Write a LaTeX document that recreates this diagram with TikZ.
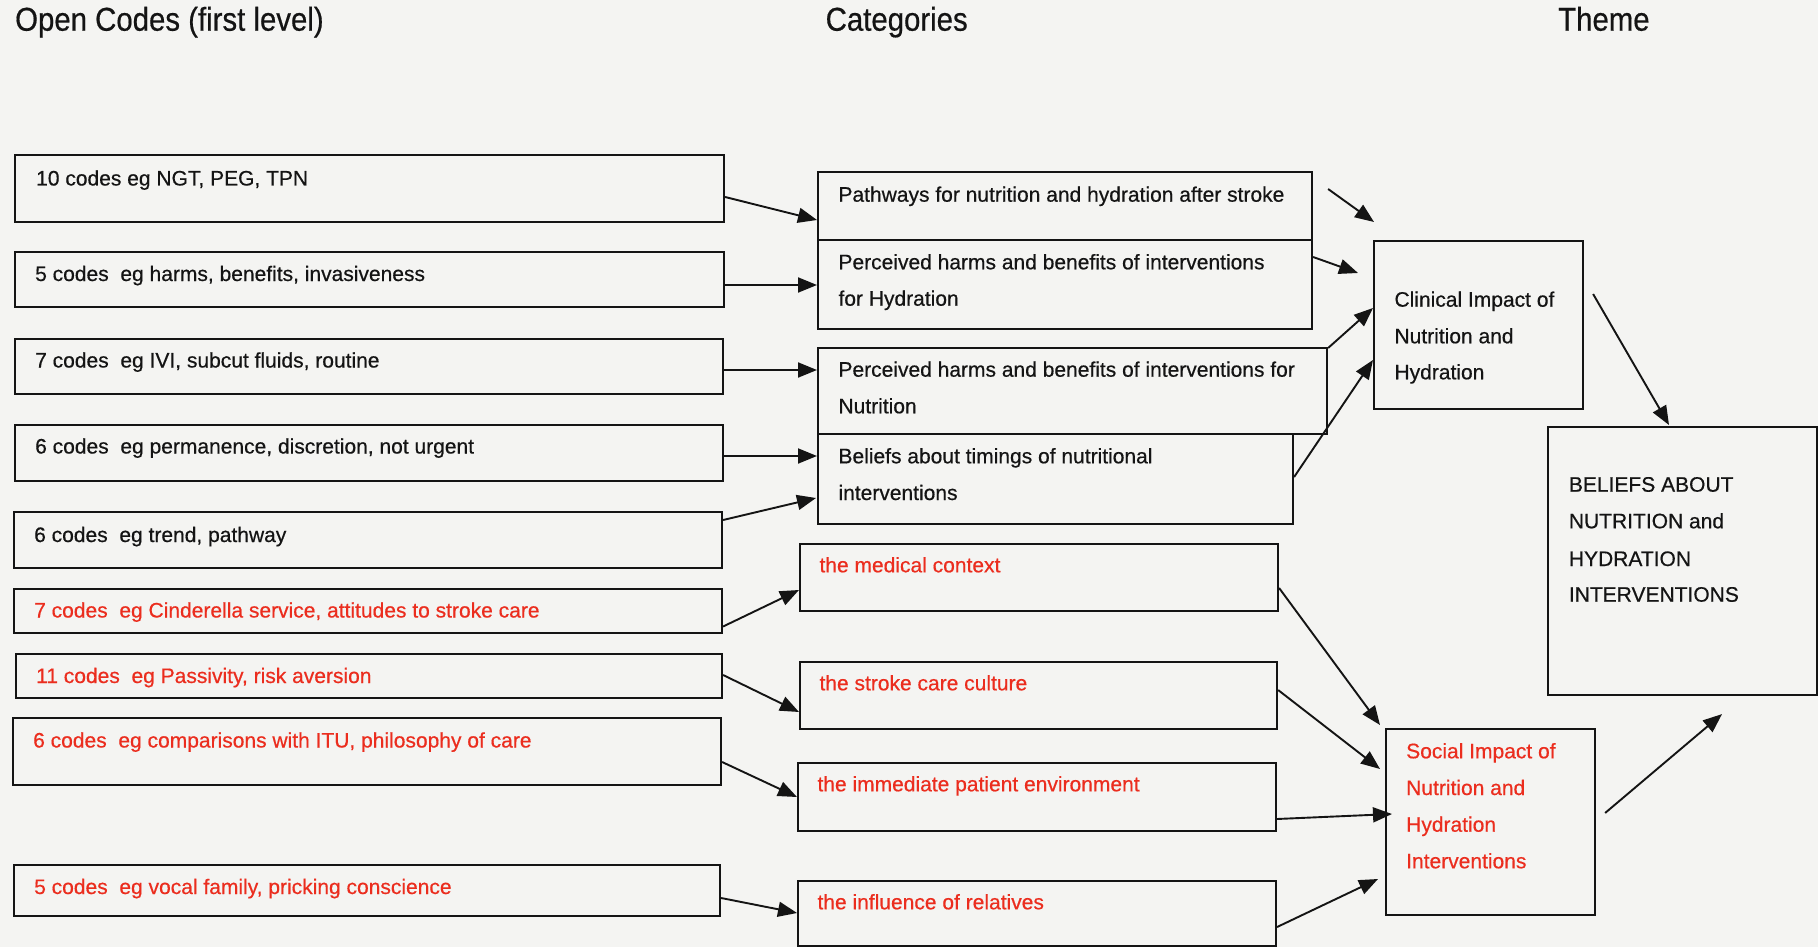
\documentclass[tikz,border=0pt]{standalone}
\usepackage{fontspec}
\setmainfont{Liberation Sans}[UprightFeatures={FakeBold=0.5}]
\newfontfamily\headfont{Liberation Sans}[UprightFeatures={FakeStretch=0.89, FakeBold=0.5}]
\usetikzlibrary{arrows.meta,calc}
\definecolor{paper}{RGB}{244,244,242}
\definecolor{ink}{RGB}{20,20,20}
\definecolor{redtxt}{RGB}{235,45,30}

\tikzset{
  box/.style={draw=ink, line width=2.1pt, inner sep=0pt, anchor=north west},
  txt/.style={inner sep=0pt, anchor=base west, text=ink, font=\fontsize{21}{36}\selectfont},
  rtxt/.style={txt, text=redtxt},
  head/.style={inner sep=0pt, anchor=base west, text=ink, font=\headfont\fontsize{33}{36}\selectfont},
  arr/.style={draw=ink, line width=1.9pt, -{Triangle[length=19pt,width=15pt]}},
}

% \mkbox{name}{left}{top}{width}{height}
\newcommand\mkbox[5]{\node[box, minimum width=#4pt, minimum height=#5pt] (#1) at (#2,#3) {};}
% \mkline{name}{style}{box}{offset from the box's top left}{text}
\newcommand\mkline[5]{\node[#2] (#1) at ($(#3.north west)+(#4)$) {#5};}

\begin{document}
\begin{tikzpicture}[x=1pt, y=-1pt]
\fill[paper] (0,0) rectangle (1818,947);
\useasboundingbox (0,0) rectangle (1818,947);

% column headings
\node[head] (h1) at (15,30.7) {Open Codes (first level)};
\node[head] (h2) at (825.5,30.7) {Categories};
\node[head] (h3) at (1558,30.7) {Theme};

% open codes
\mkbox{o1}{14}{154}{709}{67}
\mkbox{o2}{14}{251}{709}{55}
\mkbox{o3}{14}{338}{708}{55}
\mkbox{o4}{14}{424}{708}{56}
\mkbox{o5}{13}{511}{708}{56}
\mkbox{o6}{13}{588}{708}{44}
\mkbox{o7}{15}{653}{706}{44}
\mkbox{o8}{12}{717}{708}{67}
\mkbox{o9}{13}{864}{706}{51}

\mkline{o1a}{txt}{o1}{22,31.5}{10 codes eg NGT, PEG, TPN}
\mkline{o2a}{txt}{o2}{21,30}{5 codes\ \ eg harms, benefits, invasiveness}
\mkline{o3a}{txt}{o3}{21,29.5}{7 codes\ \ eg IVI, subcut fluids, routine}
\mkline{o4a}{txt}{o4}{21,29.5}{6 codes\ \ eg permanence, discretion, not urgent}
\mkline{o5a}{txt}{o5}{21,31}{6 codes\ \ eg trend, pathway}
\mkline{o6a}{rtxt}{o6}{21,29.5}{7 codes\ \ eg Cinderella service, attitudes to stroke care}
\mkline{o7a}{rtxt}{o7}{21,30}{11 codes\ \ eg Passivity, risk aversion}
\mkline{o8a}{rtxt}{o8}{21,30.5}{6 codes\ \ eg comparisons with ITU, philosophy of care}
\mkline{o9a}{rtxt}{o9}{21,30}{5 codes\ \ eg vocal family, pricking conscience}

% categories
\mkbox{c1}{817}{171}{494}{68}
\mkbox{c2}{817}{239}{494}{89}
\mkbox{c3}{817}{347}{509}{86}
\mkbox{c4}{817}{433}{475}{90}
\mkbox{c5}{799}{543}{478}{67}
\mkbox{c6}{799}{661}{477}{67}
\mkbox{c7}{797}{762}{478}{68}
\mkbox{c8}{797}{880}{478}{65}

\mkline{c1a}{txt}{c1}{21.3,30.7}{Pathways for nutrition and hydration after stroke}
\mkline{c2a}{txt}{c2}{21.3,30.3}{Perceived harms and benefits of interventions}
\mkline{c2b}{txt}{c2}{21.3,66.7}{for Hydration}
\mkline{c3a}{txt}{c3}{21.3,29.7}{Perceived harms and benefits of interventions for}
\mkline{c3b}{txt}{c3}{21.3,66.3}{Nutrition}
\mkline{c4a}{txt}{c4}{21.3,30.3}{Beliefs about timings of nutritional}
\mkline{c4b}{txt}{c4}{21.3,67}{interventions}
\mkline{c5a}{rtxt}{c5}{20.3,29.3}{the medical context}
\mkline{c6a}{rtxt}{c6}{20.3,29.3}{the stroke care culture}
\mkline{c7a}{rtxt}{c7}{20.3,29.3}{the immediate patient environment}
\mkline{c8a}{rtxt}{c8}{20.3,29.3}{the influence of relatives}

% themes
\mkbox{t1}{1373}{240}{209}{168}
\mkbox{t2}{1385}{728}{209}{186}
\mkbox{th}{1547}{426}{269}{268}

\mkline{t1a}{txt}{t1}{21.3,66.7}{Clinical Impact of}
\mkline{t1b}{txt}{t1}{21.3,103.3}{Nutrition and}
\mkline{t1c}{txt}{t1}{21.3,139.3}{Hydration}
\mkline{t2a}{rtxt}{t2}{21,30.3}{Social Impact of}
\mkline{t2b}{rtxt}{t2}{21,67}{Nutrition and}
\mkline{t2c}{rtxt}{t2}{21,103.7}{Hydration}
\mkline{t2d}{rtxt}{t2}{21,140.3}{Interventions}
\mkline{tha}{txt}{th}{21.7,65.7}{BELIEFS ABOUT}
\mkline{thb}{txt}{th}{21.7,102.3}{NUTRITION and}
\mkline{thc}{txt}{th}{21.7,140}{HYDRATION}
\mkline{thd}{txt}{th}{21.7,175.7}{INTERVENTIONS}

% open codes -> categories
\draw[arr] ($(o1.north east)+(0,43)$) -- ($(c1.north west)+(0,49)$);
\draw[arr] ($(o2.north east)+(0,34)$) -- ($(c2.north west)+(0,46)$);
\draw[arr] ($(o3.north east)+(0,32)$) -- ($(c3.north west)+(0,23)$);
\draw[arr] ($(o4.north east)+(0,32)$) -- ($(c4.north west)+(0,23)$);
\draw[arr] ($(o5.north east)+(0,9)$) -- ($(c4.north west)+(-1,65)$);
\draw[arr] ($(o6.north east)+(0,38.5)$) -- ($(c5.north west)+(0,47)$);
\draw[arr] ($(o7.north east)+(0,22)$) -- ($(c6.north west)+(0,51)$);
\draw[arr] ($(o8.north east)+(0,45)$) -- ($(c7.north west)+(0,35)$);
\draw[arr] ($(o9.north east)+(0,34)$) -- ($(c8.north west)+(0,33)$);

% categories -> clinical impact
\draw[arr] ($(c1.north east)+(15,18)$) -- ($(t1.north west)+(1,-18)$);
\draw[arr] ($(c2.north east)+(0,18)$) -- ($(t1.north west)+(-15,33)$);
\draw[arr] ($(c3.north east)+(0,1)$) -- ($(t1.north west)+(0,68)$);
\draw[arr] ($(c4.north east)+(0,44)$) -- ($(t1.north west)+(0,120)$);

% categories -> social impact
\draw[arr] ($(c5.north east)+(0,45)$) -- ($(t2.north west)+(-5,-3)$);
\draw[arr] ($(c6.north east)+(0,29)$) -- ($(t2.north west)+(-5,41)$);
\draw[arr] ($(c7.north east)+(0,57)$) -- ($(t2.north west)+(7,86)$);
\draw[arr] ($(c8.north east)+(0,47)$) -- ($(t2.north west)+(-7,151)$);

% impacts -> theme
\draw[arr] ($(t1.north east)+(9,54)$) -- ($(th.north west)+(122,-1)$);
\draw[arr] ($(t2.north east)+(9,85)$) -- ($(th.south west)+(175,18)$);
\end{tikzpicture}
\end{document}
